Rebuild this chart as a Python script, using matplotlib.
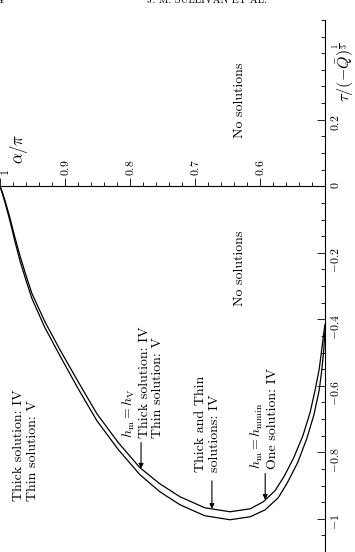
import numpy as np
import matplotlib
matplotlib.use('Agg')
from matplotlib import pyplot as plt
from matplotlib.ticker import FixedLocator, FixedFormatter, MultipleLocator
from matplotlib.transforms import ScaledTranslation

plt.rcParams['font.family'] = 'cmr10'
plt.rcParams['mathtext.fontset'] = 'cm'
plt.rcParams['axes.unicode_minus'] = False

# Curves: alpha/pi (page horizontal) against tau/(-Q)^(1/3) (page vertical)

outer_alpha = [1.000, 0.997, 0.992, 0.985, 0.977, 0.969, 0.960, 0.951, 0.931, 0.908,
               0.880, 0.851, 0.818, 0.785, 0.754, 0.723, 0.685, 0.646, 0.615, 0.592,
               0.572, 0.558, 0.542, 0.528, 0.517, 0.509, 0.505, 0.502, 0.500]
outer_tau = [0.000, -0.018, -0.051, -0.102, -0.166, -0.226, -0.283, -0.337, -0.425, -0.509,
             -0.608, -0.705, -0.792, -0.867, -0.919, -0.958, -0.991, -1.003, -0.994, -0.973,
             -0.937, -0.892, -0.831, -0.759, -0.687, -0.614, -0.554, -0.494, -0.434]

inner_alpha = [1.000, 0.997, 0.992, 0.985, 0.977, 0.969, 0.960, 0.951, 0.931, 0.908,
               0.880, 0.851, 0.818, 0.785, 0.754, 0.723, 0.685, 0.646, 0.615, 0.595,
               0.577, 0.563, 0.548, 0.534, 0.523, 0.515, 0.509, 0.505, 0.502, 0.500]
inner_tau = [0.000, -0.015, -0.045, -0.093, -0.154, -0.211, -0.268, -0.322, -0.407, -0.491,
             -0.587, -0.684, -0.771, -0.846, -0.895, -0.934, -0.967, -0.979, -0.970, -0.949,
             -0.916, -0.873, -0.816, -0.750, -0.681, -0.611, -0.551, -0.491, -0.443, -0.416]

alpha_ticks = [1.0, 0.9, 0.8, 0.7, 0.6]
alpha_labels = ['$1$', '$0.9$', '$0.8$', '$0.7$', '$0.6$']
tau_ticks = [0.2, 0.0, -0.2, -0.4, -0.6, -0.8, -1.0]
tau_labels = ['$0.2$', '$0$', '$-0.2$', '$-0.4$', '$-0.6$', '$-0.8$', '$-1$']

# Figure (page is printed sideways, so text runs bottom to top)

fig = plt.figure(figsize=(3.55, 5.52), dpi=100)
ax = fig.add_axes([0, 0, 325/355, 532/552])
ax.set_xlim(1.0, 0.5)
ax.set_ylim(-1.1, 0.5)

ax.plot(outer_alpha, outer_tau, 'k-', linewidth=0.9, clip_on=False)
ax.plot(inner_alpha, inner_tau, 'k-', linewidth=0.9, clip_on=False)

ax.spines['left'].set_visible(False)
ax.spines['bottom'].set_visible(False)
ax.spines['top'].set_position(('data', 0))
ax.spines['top'].set_linewidth(0.8)
ax.spines['right'].set_linewidth(0.8)

ax.xaxis.set_ticks_position('top')
ax.xaxis.set_major_locator(FixedLocator(alpha_ticks))
ax.xaxis.set_major_formatter(FixedFormatter(alpha_labels))
ax.xaxis.set_minor_locator(MultipleLocator(0.02))
ax.tick_params(axis='x', which='both', direction='out', top=True, bottom=False,
               labeltop=True, labelbottom=False, labelrotation=90, labelsize=8.5, pad=1.5)
ax.tick_params(axis='x', which='major', length=6, width=0.6)
ax.tick_params(axis='x', which='minor', length=3, width=0.6)

ax.yaxis.set_ticks_position('right')
ax.yaxis.set_major_locator(FixedLocator(tau_ticks))
ax.yaxis.set_major_formatter(FixedFormatter(tau_labels))
ax.yaxis.set_minor_locator(MultipleLocator(0.05))
ax.tick_params(axis='y', which='both', direction='in', right=True, left=False,
               labelright=True, labelleft=False, labelrotation=90, labelsize=8.5, pad=3)
ax.tick_params(axis='y', which='major', length=6, width=0.6)
ax.tick_params(axis='y', which='minor', length=3, width=0.6)

# the "1" label sits right at the page edge; nudge it inside
for tick in ax.xaxis.get_major_ticks()[:1]:
    lbl = tick.label2
    lbl.set_transform(lbl.get_transform() + ScaledTranslation(5/100, 0, fig.dpi_scale_trans))

ax.text(0.971, 0.114, r'$\alpha/\pi$', rotation=90, rotation_mode='anchor',
        ha='center', va='center', fontsize=12)
ax.text(0.472, 0.343, r'$\tau/(-\bar{Q})^{\frac{1}{3}}$', rotation=90, rotation_mode='anchor',
        ha='center', va='center', fontsize=11.5, clip_on=False)

# Region labels

ax.text(0.631, 0.259, 'No solutions', rotation=90, rotation_mode='anchor',
        ha='center', va='center', fontsize=10)
ax.text(0.631, -0.247, 'No solutions', rotation=90, rotation_mode='anchor',
        ha='center', va='center', fontsize=10)
ax.text(0.980, -0.946, 'Thick solution: IV\nThin solution: V', rotation=90,
        rotation_mode='anchor', ha='left', va='top', fontsize=10, linespacing=1.15)
ax.text(0.814, -0.756, '$h_{\\mathrm{m}} = h_{\\mathrm{V}}$\nThick solution: IV\nThin solution: V',
        rotation=90, rotation_mode='anchor', ha='left', va='top', fontsize=10, linespacing=1.15)
ax.text(0.700, -0.858, 'Thick and Thin\nsolutions: IV', rotation=90,
        rotation_mode='anchor', ha='left', va='top', fontsize=10, linespacing=1.15)
ax.text(0.617, -0.849, '$h_{\\mathrm{m}} = h_{\\mathrm{mmin}}$\nOne solution: IV', rotation=90,
        rotation_mode='anchor', ha='left', va='top', fontsize=10, linespacing=1.15)

arrow = dict(arrowstyle='-|>', color='k', lw=0.8, mutation_scale=7, shrinkA=0, shrinkB=0)
ax.annotate('', xy=(0.783, -0.849), xytext=(0.783, -0.771), arrowprops=arrow)
ax.annotate('', xy=(0.674, -0.970), xytext=(0.674, -0.886), arrowprops=arrow)
ax.annotate('', xy=(0.592, -0.943), xytext=(0.592, -0.864), arrowprops=arrow)

# Page header, cut off at the top edge
fig.text(-2/355, 1 - 3/552, '4', fontsize=8, ha='left', va='baseline')
fig.text(147/355, 1 - 3/552, 'J. M. SULLIVAN ET AL.', fontsize=7.5, ha='left', va='baseline')

plt.savefig('out.png', dpi=100)
